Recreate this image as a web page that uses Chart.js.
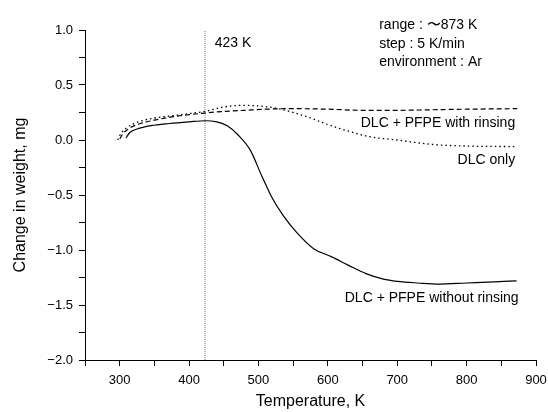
<!DOCTYPE html>
<html>
<head>
<meta charset="utf-8">
<script src="https://cdn.jsdelivr.net/npm/chart.js@4.4.1/dist/chart.umd.min.js"></script>
<style>
  body { margin: 0; background: #fff; }
  #wrap { width: 548px; height: 412px; }
</style>
</head>
<body>
<div id="wrap"><canvas id="tga"></canvas></div>
<script>
// DLC + PFPE without rinsing (solid)
const tempNoRinse = [309, 315, 325, 345, 372, 400, 423, 440, 455, 470, 488, 505, 520, 535, 555, 580, 605, 630, 655, 680, 700, 730, 760, 800, 840, 872];
const weightNoRinse = [0.02, 0.07, 0.10, 0.13, 0.15, 0.165, 0.175, 0.165, 0.13, 0.05, -0.09, -0.33, -0.53, -0.68, -0.84, -0.99, -1.06, -1.14, -1.215, -1.265, -1.285, -1.30, -1.31, -1.30, -1.29, -1.28];

// DLC + PFPE with rinsing (dashed)
const tempRinse = [300, 305, 315, 330, 350, 375, 400, 423, 450, 480, 510, 550, 600, 650, 700, 750, 800, 873];
const weightRinse = [0.01, 0.06, 0.11, 0.15, 0.18, 0.21, 0.23, 0.245, 0.26, 0.27, 0.28, 0.285, 0.28, 0.27, 0.27, 0.275, 0.28, 0.285];

// DLC only (dotted)
const tempDlc = [297, 302, 310, 325, 350, 375, 400, 423, 450, 475, 500, 525, 550, 575, 600, 630, 660, 700, 750, 800, 873];
const weightDlc = [0.0, 0.06, 0.11, 0.16, 0.20, 0.22, 0.24, 0.26, 0.30, 0.315, 0.31, 0.29, 0.25, 0.20, 0.14, 0.08, 0.03, 0.0, -0.04, -0.055, -0.06];

const seriesNames = ['DLC + PFPE without rinsing', 'DLC + PFPE with rinsing', 'DLC only'];
const markerTemp = 423;
const markerLabel = '423 K';
const noteLines = ['range : 〜873 K', 'step : 5 K/min', 'environment : Ar'];

const xTicks = [300, 400, 500, 600, 700, 800, 900];
const yTicks = [1.0, 0.5, 0.0, -0.5, -1.0, -1.5, -2.0];

const FONT = "'Liberation Sans', Arial, sans-serif";

function pts(xs, ys) {
    return xs.map((x, i) => ({ x: x, y: ys[i] }));
}

// убираем авто-отступы шкал, чтобы область графика совпадала с layout.padding
function noScalePadding(scale) {
    scale.paddingLeft = 0;
    scale.paddingRight = 0;
    scale.paddingTop = 0;
    scale.paddingBottom = 0;
}

// подписи на графике
const textPlugin = {
    id: 'textPlugin',
    afterDatasetsDraw(chart) {
        const ctx = chart.ctx;
        const xs = chart.scales.x;
        const ys = chart.scales.y;
        ctx.save();
        ctx.fillStyle = '#000';
        ctx.font = '14px ' + FONT;
        ctx.textBaseline = 'middle';

        ctx.textAlign = 'left';
        ctx.fillText(markerLabel, xs.getPixelForValue(437), ys.getPixelForValue(0.88));
        noteLines.forEach((line, i) => {
            ctx.fillText(line, xs.getPixelForValue(674), ys.getPixelForValue(1.04 - i * 0.165));
        });

        ctx.textAlign = 'right';
        ctx.fillText(seriesNames[1], xs.getPixelForValue(870), ys.getPixelForValue(0.155));
        ctx.fillText(seriesNames[2], xs.getPixelForValue(870), ys.getPixelForValue(-0.18));
        ctx.fillText(seriesNames[0], xs.getPixelForValue(875), ys.getPixelForValue(-1.435));
        ctx.restore();
    }
};

const ctx = document.getElementById('tga').getContext('2d');
new Chart(ctx, {
    type: 'line',
    data: {
        datasets: [
            {
                label: seriesNames[0],
                data: pts(tempNoRinse, weightNoRinse),
                borderColor: '#000',
                borderWidth: 1.2,
                cubicInterpolationMode: 'monotone',
                pointRadius: 0
            },
            {
                label: seriesNames[1],
                data: pts(tempRinse, weightRinse),
                borderColor: '#000',
                borderWidth: 1.2,
                borderDash: [5, 3],
                cubicInterpolationMode: 'monotone',
                pointRadius: 0
            },
            {
                label: seriesNames[2],
                data: pts(tempDlc, weightDlc),
                borderColor: '#000',
                borderWidth: 1.3,
                borderDash: [1.5, 3],
                cubicInterpolationMode: 'monotone',
                pointRadius: 0
            },
            {
                label: markerLabel,
                data: [{ x: markerTemp, y: -2 }, { x: markerTemp, y: 1 }],
                borderColor: '#777',
                borderWidth: 1,
                borderDash: [1, 1],
                pointRadius: 0
            }
        ]
    },
    options: {
        responsive: true,
        maintainAspectRatio: false,
        animation: false,
        layout: { padding: { top: 30, right: 12, left: 0, bottom: 0 } },
        plugins: {
            legend: { display: false },
            tooltip: { enabled: false }
        },
        scales: {
            x: {
                type: 'linear',
                min: 250,
                max: 900,
                afterFit(scale) { scale.height = 52; noScalePadding(scale); },
                grid: { display: true, drawOnChartArea: false, drawTicks: true, tickLength: 6, tickColor: '#000' },
                border: { display: true, color: '#000', width: 1 },
                ticks: {
                    stepSize: 50,
                    autoSkip: false,
                    maxRotation: 0,
                    padding: 7,
                    color: '#000',
                    font: { family: FONT, size: 13 },
                    callback: v => xTicks.includes(v) ? String(v) : ''
                },
                title: {
                    display: true,
                    text: 'Temperature, K',
                    color: '#000',
                    font: { family: FONT, size: 16 },
                    padding: { top: 0, bottom: 1 }
                }
            },
            y: {
                type: 'linear',
                min: -2,
                max: 1,
                afterFit(scale) { scale.width = 85; noScalePadding(scale); },
                grid: { display: true, drawOnChartArea: false, drawTicks: true, tickLength: 6, tickColor: '#000' },
                border: { display: true, color: '#000', width: 1 },
                ticks: {
                    stepSize: 0.25,
                    autoSkip: false,
                    padding: 6,
                    color: '#000',
                    font: { family: FONT, size: 13 },
                    callback: v => {
                        const t = yTicks.find(k => Math.abs(k - v) < 1e-6);
                        if (t === undefined) return '';
                        return (t < 0 ? '\u2212' : '') + Math.abs(t).toFixed(1);
                    }
                },
                title: {
                    display: true,
                    text: 'Change in weight, mg',
                    color: '#000',
                    font: { family: FONT, size: 16 },
                    padding: { top: 11, bottom: 0 }
                }
            }
        }
    },
    plugins: [textPlugin]
});
</script>
</body>
</html>
